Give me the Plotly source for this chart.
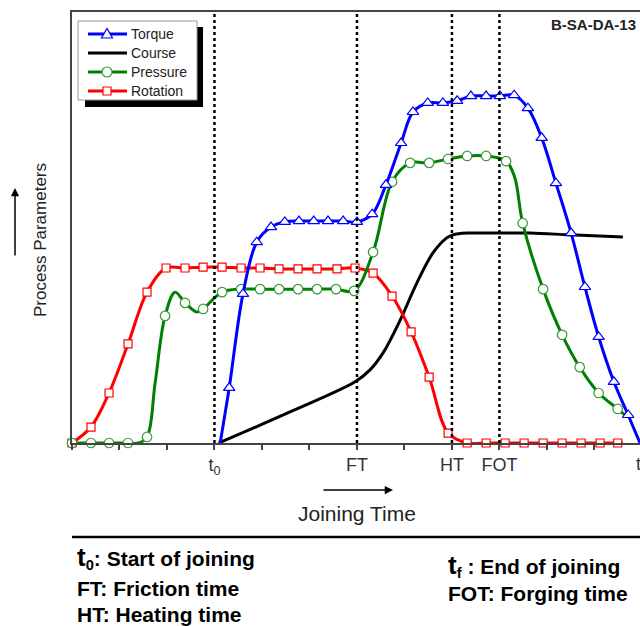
import plotly.graph_objects as go

# ---- data (time in arbitrary units, process parameters in % of full scale) ----
# knots; *_mark flags which knots carry a symbol
torque_t = [3.12, 3.31, 3.60, 3.89, 4.19, 4.48, 4.78, 5.09, 5.39, 5.71, 6.00, 6.32, 6.61,
            6.93, 7.18, 7.49, 7.81, 8.11, 8.40, 8.72, 9.01, 9.31, 9.60, 9.89, 10.19,
            10.51, 10.80, 11.09, 11.41, 11.71, 11.96]
torque_v = [0.0, 12.8, 34.6, 46.6, 50.1, 51.3, 51.5, 51.5, 51.5, 51.5, 51.3, 53.1, 59.9,
            69.6, 76.8, 78.9, 78.9, 79.4, 80.5, 80.5, 80.5, 80.7, 77.7, 70.8, 60.3,
            48.7, 36.2, 24.6, 14.2, 6.5, 0.0]
torque_mark = [0] + [1] * 29 + [0]

course_t = [3.09, 4.59, 5.96, 6.27, 6.55, 6.91, 7.26, 7.60, 7.89, 8.02, 8.32, 8.80,
            9.64, 10.48, 11.60]
course_v = [0.0, 7.2, 14.2, 16.9, 20.9, 28.5, 37.1, 44.1, 47.6, 48.3, 48.7, 48.7,
            48.7, 48.3, 47.8]

pressure_t = [0.00, 0.40, 0.78, 1.18, 1.40, 1.58, 1.75, 1.96, 2.17, 2.38, 2.63, 2.76,
              3.16, 3.56, 3.96, 4.36, 4.76, 5.16, 5.56, 5.94, 6.34, 6.74, 7.12, 7.52,
              7.92, 8.32, 8.72, 9.14, 9.32, 9.49, 9.92, 10.32, 10.69, 11.09, 11.49, 11.64]
pressure_v = [0.0, 0.0, 0.0, 0.0, 0.0, 1.4, 13.9, 29.5, 35.0, 32.5, 30.4, 31.1,
              35.0, 35.7, 35.7, 35.7, 35.7, 35.7, 35.7, 35.3, 44.3, 60.6, 65.0, 65.0,
              65.9, 66.6, 66.6, 65.4, 61.7, 51.0, 35.7, 25.1, 17.6, 11.6, 7.9, 6.5]
pressure_mark = [1, 1, 1, 1, 0, 1, 0, 1, 0, 1, 0, 1,
                 1, 1, 1, 1, 1, 1, 1, 1, 1, 1, 1, 1,
                 1, 1, 1, 1, 0, 1, 1, 1, 1, 1, 1, 0]

rotation_t = [0.00, 0.40, 0.78, 1.18, 1.58, 1.98, 2.38, 2.76, 3.16, 3.56, 3.96, 4.36,
              4.76, 5.16, 5.58, 5.96, 6.34, 6.74, 7.14, 7.52, 7.92, 8.32, 8.72, 9.12,
              9.52, 9.92, 10.32, 10.72, 11.12, 11.49, 11.60]
rotation_v = [0.0, 3.7, 11.6, 23.0, 35.0, 40.6, 40.6, 40.8, 40.8, 40.6, 40.6, 40.4,
              40.4, 40.4, 40.4, 40.6, 39.4, 34.1, 25.8, 15.3, 2.3, 0.0, 0.0, 0.0,
              0.0, 0.0, 0.0, 0.0, 0.0, 0.0, 0.0]
rotation_mark = [1] * 30 + [0]

# characteristic instants on the time axis
event_t = [3, 6, 8, 9]
tick_t = list(range(0, 13))
tick_text = {3: "t<sub>0</sub>", 6: "FT", 8: "HT", 9: "FOT"}

legend_names = ["Torque", "Course", "Pressure", "Rotation"]

BLUE, BLACK, GREEN, RED = "#0000ff", "#000000", "#008000", "#ff0000"
GREEN_EDGE = "#3a9a3a"
FONT = "Arial, Liberation Sans, sans-serif"

# plot-area geometry in pixels (used for paper-coordinate decorations)
L, R, T, B = 72, 640, 12, 443


def px(x):
    return (x - L) / (R - L)


def py(y):
    return (B - y) / (B - T)


fig = go.Figure()


def add_series(t, v, color, mark=None, symbol=None, msize=9, mline=None):
    fig.add_trace(go.Scatter(
        x=t, y=v, mode="lines", line=dict(color=color, width=3, shape="spline", smoothing=1.0),
        cliponaxis=False, showlegend=False, hoverinfo="skip"))
    if mark is not None:
        mt = [a for a, m in zip(t, mark) if m]
        mv = [b for b, m in zip(v, mark) if m]
        fig.add_trace(go.Scatter(
            x=mt, y=mv, mode="markers", cliponaxis=False, showlegend=False,
            marker=dict(symbol=symbol, size=msize, color="white",
                        line=dict(color=mline or color, width=1.2))))


add_series(course_t, course_v, BLACK)
add_series(rotation_t, rotation_v, RED, rotation_mark, "square", 8)
add_series(pressure_t, pressure_v, GREEN, pressure_mark, "circle", 9.5, GREEN_EDGE)
add_series(torque_t, torque_v, BLUE, torque_mark, "triangle-up", 10)

shapes = []
for t in event_t:
    shapes.append(dict(type="line", xref="x", yref="paper", x0=t, x1=t, y0=0, y1=1,
                       line=dict(color="black", width=2.5, dash="dot"), layer="above"))

# ---- boxed legend with a drop shadow ----
shapes.append(dict(type="rect", xref="paper", yref="paper", x0=px(85), x1=px(203),
                   y0=py(107), y1=py(27), fillcolor="black", line=dict(width=0), layer="above"))
shapes.append(dict(type="rect", xref="paper", yref="paper", x0=px(78), x1=px(197),
                   y0=py(100), y1=py(21), fillcolor="white", line=dict(color="#999", width=1),
                   layer="above"))
rows = [34, 53, 72, 91]
styles = [(BLUE, "tri", BLUE), (BLACK, None, None), (GREEN, "circ", GREEN_EDGE), (RED, "sq", RED)]
legend_ann = []
for yy, name, (col, sym, edge) in zip(rows, legend_names, styles):
    shapes.append(dict(type="line", xref="paper", yref="paper", x0=px(88), x1=px(127),
                       y0=py(yy), y1=py(yy), line=dict(color=col, width=3), layer="above"))
    cx = 107
    if sym == "tri":
        path = "M{},{} L{},{} L{},{} Z".format(px(cx), py(yy - 5.5), px(cx - 5.5), py(yy + 4),
                                              px(cx + 5.5), py(yy + 4))
        shapes.append(dict(type="path", xref="paper", yref="paper", path=path,
                           fillcolor="white", line=dict(color=edge, width=1.2), layer="above"))
    elif sym == "circ":
        shapes.append(dict(type="circle", xref="paper", yref="paper", x0=px(cx - 5), x1=px(cx + 5),
                           y0=py(yy + 5), y1=py(yy - 5), fillcolor="white",
                           line=dict(color=edge, width=1.2), layer="above"))
    elif sym == "sq":
        shapes.append(dict(type="rect", xref="paper", yref="paper", x0=px(cx - 4), x1=px(cx + 4),
                           y0=py(yy + 4), y1=py(yy - 4), fillcolor="white",
                           line=dict(color=edge, width=1.2), layer="above"))
    legend_ann.append(dict(text=name, x=px(129), y=py(yy), xanchor="left",
                           font=dict(size=14, color="#222")))

# rule above the glossary
shapes.append(dict(type="line", xref="paper", yref="paper", x0=0, x1=1.0, y0=py(537), y1=py(537),
                   line=dict(color="black", width=2.5)))

GLOSS = dict(size=21, color="black")
ann = legend_ann + [
    dict(text="Joining Time", x=px(357), y=py(513), font=dict(size=21, color="#222")),
    dict(text="", x=px(393), y=py(490), ax=-71, ay=0, showarrow=True, arrowhead=2,
         arrowsize=1.1, arrowwidth=1.5, arrowcolor="black"),
    dict(text="Process Parameters", x=px(40), y=py(240), textangle=-90,
         font=dict(size=17, color="#222")),
    dict(text="", x=px(15), y=py(188), ax=0, ay=69, showarrow=True, arrowhead=2,
         arrowsize=1.1, arrowwidth=1.5, arrowcolor="black"),
    dict(text="<b>B-SA-DA-13</b>", x=px(638), y=py(24), xanchor="right",
         font=dict(size=15, color="#222")),
    dict(text="t<sub>f</sub>", x=px(640), y=py(466), font=dict(size=18, color="#333")),
    dict(text='<b><span style="font-size:26px">t</span><sub>0</sub>: Start of joining</b>',
         x=px(75), y=py(557), xanchor="left", font=GLOSS),
    dict(text="<b>FT: Friction time</b>", x=px(75), y=py(588), xanchor="left", font=GLOSS),
    dict(text="<b>HT: Heating time</b>", x=px(75), y=py(614), xanchor="left", font=GLOSS),
    dict(text='<b><span style="font-size:26px">t</span><sub>f</sub> : End of joining</b>',
         x=px(446), y=py(565), xanchor="left", font=GLOSS),
    dict(text="<b>FOT: Forging time</b>", x=px(446), y=py(593), xanchor="left", font=GLOSS),
]
for a in ann:
    a.setdefault("xref", "paper")
    a.setdefault("yref", "paper")
    a.setdefault("showarrow", False)
    a.setdefault("yanchor", "middle")
    a.setdefault("xanchor", "center")

fig.update_layout(
    width=640, height=626,
    margin=dict(l=L, r=640 - R, t=T, b=626 - B),
    paper_bgcolor="white", plot_bgcolor="white",
    font=dict(family=FONT, size=14, color="#333"),
    showlegend=False,
    shapes=shapes, annotations=ann,
    xaxis=dict(range=[0, 11.96], showgrid=False, zeroline=False, showline=True,
               linecolor="#444", linewidth=1.5, mirror=True, ticks="outside", ticklen=5,
               tickwidth=1.5, tickcolor="#444", tickvals=tick_t,
               ticktext=[tick_text.get(t, "") for t in tick_t],
               tickfont=dict(size=18, color="#333")),
    yaxis=dict(range=[0, 100], showgrid=False, zeroline=False, showline=True,
               linecolor="#444", linewidth=1.5, showticklabels=False, ticks=""),
)

fig.write_html("out.html")
